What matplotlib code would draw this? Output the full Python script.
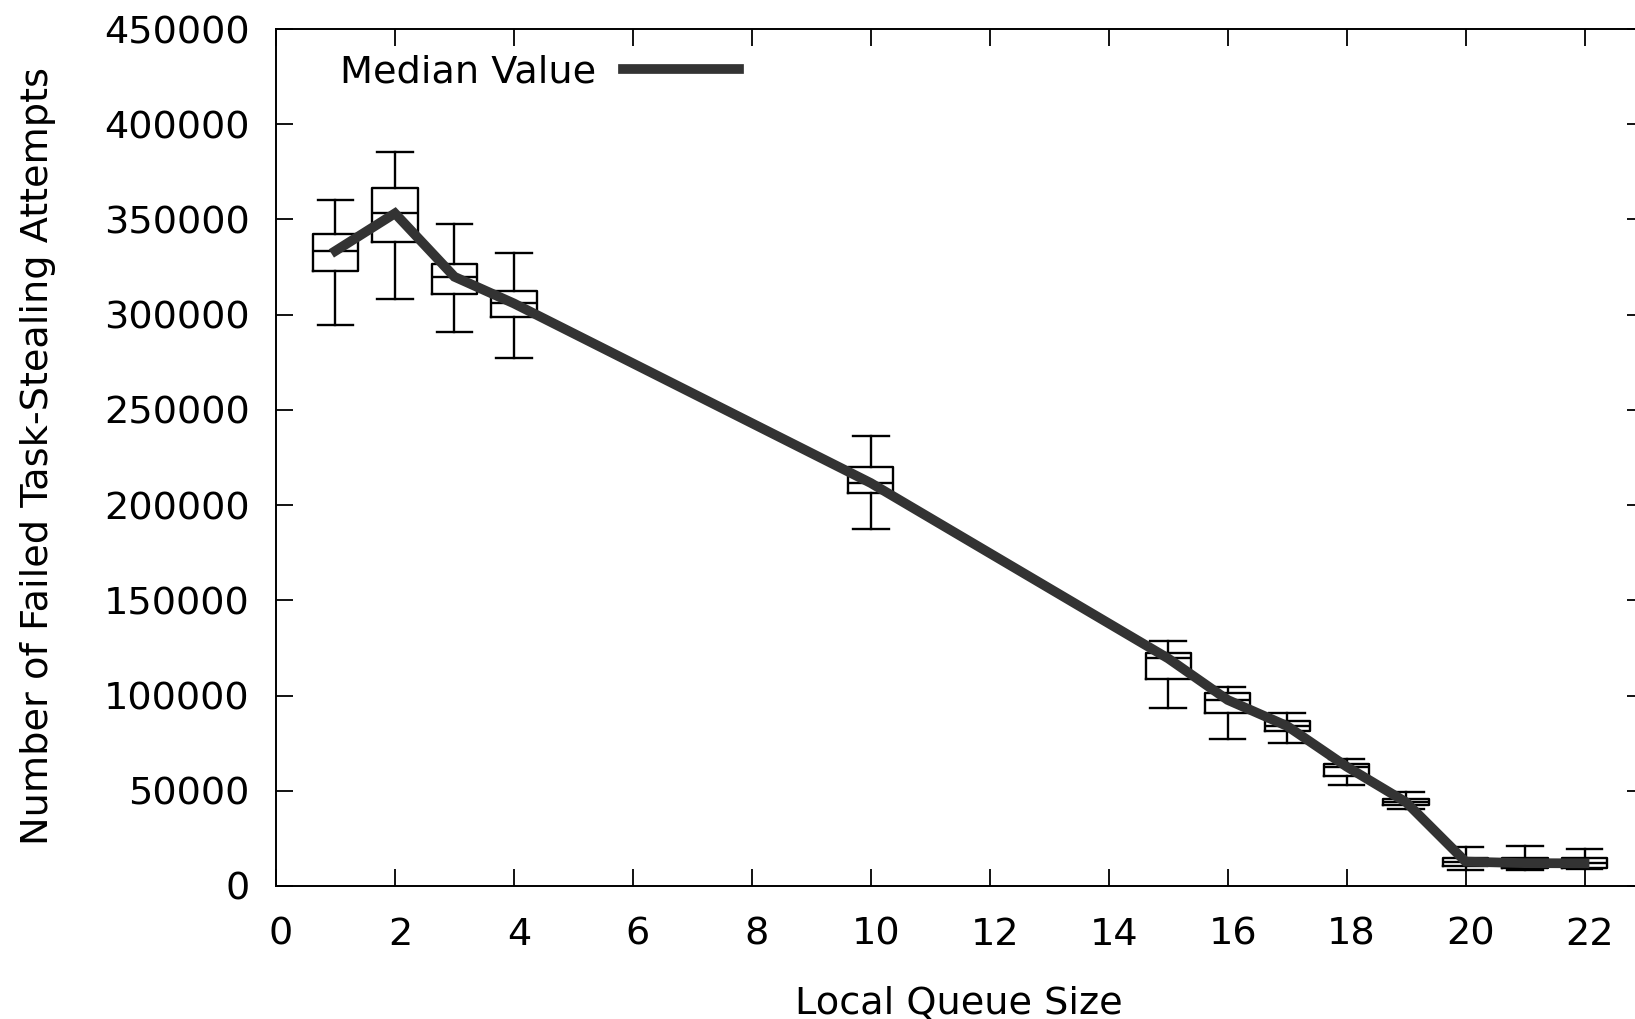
import matplotlib
matplotlib.use("Agg")
import matplotlib.pyplot as plt
from matplotlib.transforms import ScaledTranslation

# local queue sizes and box statistics
queue_sizes = [1, 2, 3, 4, 10, 15, 16, 17, 18, 19, 20, 21, 22]
whisker_low = [294500, 308400, 290700, 277000, 187400, 93300, 77000, 74900, 53000, 40600, 8400, 8200, 8800]
q1 = [323000, 338300, 310800, 298600, 206500, 108500, 90700, 81600, 57800, 42500, 10500, 9500, 9300]
medians = [333500, 353200, 319900, 305900, 211600, 119500, 97700, 84000, 62700, 44000, 12800, 12000, 11900]
q3 = [342300, 366300, 326600, 312600, 219800, 122200, 101500, 86800, 64100, 45500, 14900, 14900, 14500]
whisker_high = [360200, 385400, 347400, 332200, 236300, 128600, 104700, 90700, 66900, 49200, 20300, 21000, 19300]

x_ticks = list(range(0, 23, 2))
y_ticks = list(range(0, 450001, 50000))

plt.rcParams['font.family'] = ['DejaVu Sans']
plt.rcParams['font.size'] = 27.5

fig = plt.figure(figsize=(16.35, 10.19), dpi=100)
ax = fig.add_axes([276 / 1635, 1 - 886 / 1019, 1368 / 1635, 857 / 1019])

stats = []
for i in range(len(queue_sizes)):
    stats.append({'med': medians[i], 'q1': q1[i], 'q3': q3[i],
                  'whislo': whisker_low[i], 'whishi': whisker_high[i],
                  'fliers': []})

lw = 1.7
ax.bxp(stats, positions=queue_sizes, widths=0.76, capwidths=0.6,
       showfliers=False, manage_ticks=False,
       boxprops=dict(color='black', linewidth=lw),
       whiskerprops=dict(color='black', linewidth=lw),
       capprops=dict(color='black', linewidth=lw),
       medianprops=dict(color='black', linewidth=lw))

ax.plot(queue_sizes, medians, color='#333333', linewidth=7,
        solid_joinstyle='miter', label='Median Value', zorder=5)

ax.set_xlim(0, 23)
ax.set_ylim(0, 450000)
ax.set_xticks(x_ticks)
ax.set_yticks(y_ticks)
ax.tick_params(direction='in', length=12, width=1.3, top=True, right=True)
ax.tick_params(axis='x', pad=22)
ax.tick_params(axis='y', pad=19)
for s in ax.spines.values():
    s.set_linewidth(1.4)

# gnuplot puts the x tick labels a touch right of the ticks
shift = ScaledTranslation(5 / 100, 0, fig.dpi_scale_trans)
for lab in ax.get_xticklabels():
    lab.set_transform(lab.get_transform() + shift)

ax.set_xlabel('Local Queue Size')
ax.set_ylabel('Number of Failed Task-Stealing Attempts')
ax.xaxis.set_label_coords(0.4993, -0.117)
ax.yaxis.set_label_coords(-0.161, 0.502)

ax.legend(loc='center left', bbox_to_anchor=(0.0468, 0.949), frameon=False,
          markerfirst=False, handlelength=3.05, handletextpad=0.7,
          borderpad=0, borderaxespad=0)

fig.savefig('out.png', dpi=100)
